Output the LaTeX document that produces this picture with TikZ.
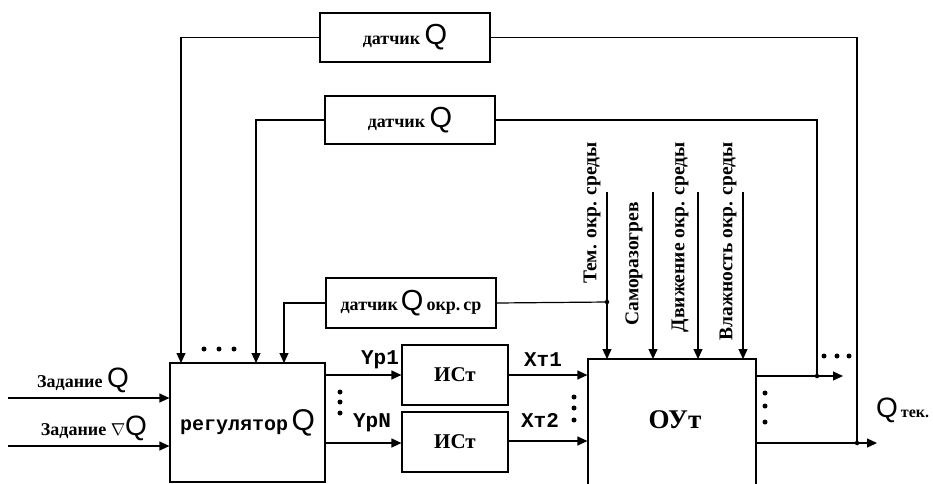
\documentclass[tikz,border=0pt]{standalone}
\usepackage{fontspec}
\setmainfont{Liberation Serif}
\setmonofont{Liberation Mono}
\newfontfamily\qfont{Liberation Sans}
\usetikzlibrary{arrows.meta}
\newcommand\QQ[1]{{\qfont\mdseries\fontsize{#1}{#1}\selectfont Q}}
\tikzset{
  ln/.style={line width=1.2pt},
  arr/.style={ln,-{Triangle[length=10pt,width=9pt]}},
  blk/.style={draw,line width=1.2pt,inner sep=0pt,font=\bfseries\fontsize{18}{18}\selectfont},
  sf/.style={font=\bfseries\fontsize{18}{18}\selectfont,inner sep=0pt},
  mf/.style={font=\ttfamily\bfseries\fontsize{21}{21}\selectfont,inner sep=0pt},
  vl/.style={rotate=90,anchor=east,inner sep=0pt,font=\bfseries\fontsize{19.5}{19.5}\selectfont},
  bdot/.style={circle,fill,inner sep=0pt,minimum size=5pt},
  jdot/.style={circle,fill,inner sep=0pt,minimum size=4.5pt}
}
\begin{document}
\begin{tikzpicture}[x=1pt,y=-1pt]
\clip (0,0) rectangle (933,483);
\fill[white] (0,0) rectangle (933,483);
% blocks
\node[blk,minimum width=170pt,minimum height=49pt] (d1) at (405,37.5) {датчик \QQ{29}};
\node[blk,minimum width=170pt,minimum height=48pt] (d2) at (410,120) {датчик \QQ{29}};
\node[blk,minimum width=170pt,minimum height=50pt] (d3) at (411,303) {датчик\,\QQ{29}\,окр.\,ср};
\node[blk,minimum width=155pt,minimum height=119pt,font=\ttfamily\bfseries\fontsize{20}{20}\selectfont] (reg) at (247.5,422.5) {регулятор\,\QQ{30}};
\node[blk,minimum width=106pt,minimum height=60pt,font=\bfseries\fontsize{21}{21}\selectfont] (i1) at (455,375) {ИСт};
\node[blk,minimum width=106pt,minimum height=60pt,font=\bfseries\fontsize{21}{21}\selectfont] (i2) at (455,442) {ИСт};
\node[blk,minimum width=168pt,minimum height=131pt] (ou) at (672,424.5) {};
\node[sf,font=\bfseries\fontsize{27}{27}\selectfont] (out) at (675,420) {ОУт};
% coordinates
\coordinate (r1) at (181,363);
\coordinate (r2) at (256,363);
\coordinate (r3) at (284,363);
\coordinate (j1) at (817,376);
\coordinate (j2) at (857,443);
\coordinate (j3) at (607,302);
\coordinate (in1) at (8,398);
\coordinate (in2) at (8,446);
\coordinate (e1) at (843,376);
\coordinate (e2) at (877,443);
\foreach \n/\x/\t in {v1/607/192, v2/653/192, v3/698/192, v4/743/192}{
  \coordinate (\n) at (\x,\t);
  \coordinate (\n b) at (\x,359);
}
% feedback lines
\draw[arr] (d1.west) -| (r1);
\draw[arr] (d2.west) -| (r2);
\draw[arr] (d3.west) -| (r3);
\draw[ln] (d1.east) -| (j2);
\draw[ln] (d2.east) -| (j1);
\draw[ln] (d3.east) -- (j3);
% disturbances
\foreach \n in {v1,v2,v3,v4}{ \draw[arr] (\n) -- (\n b); }
% inputs
\draw[arr] (in1) -- (in1 -| reg.west);
\draw[arr] (in2) -- (in2 -| reg.west);
% regulator outputs
\draw[arr] (reg.east |- i1) -- (i1.west);
\draw[arr] (reg.east |- 0,443) -- (i2.west |- 0,443);
\draw[arr] (i1.east) -- (ou.west |- i1);
\draw[arr] (i2.east |- 0,441) -- (ou.west |- 0,441);
% outputs
\draw[arr] (ou.east |- j1) -- (e1);
\draw[arr] (ou.east |- j2) -- (e2);
\node[jdot] at (j1) {};
\node[jdot] at (j2) {};
\node[jdot] at (j3) {};
% dots
\foreach \p in {(204,349),(219,349),(234,349),(824,356),(837,356),(849,356),
                (340,392),(340,402),(340,413),(574,397),(574,408),(574,420),
                (765,393),(765,406),(765,422)}{ \node[bdot] at \p {}; }
% labels
\node[sf] (l1) at (83,380) {Задание \QQ{28}};
\node[sf] (l2) at (94,428) {Задание $\nabla$\QQ{28}};
\node[mf] (y1) at (380,360) {Yp1};
\node[mf] (yn) at (372,423) {YpN};
\node[mf] (x1) at (543,360) {Xт1};
\node[mf] (x2) at (540,420) {Xт2};
\node[sf,anchor=west] (qt) at (876,410) {\QQ{28}\,\fontsize{16}{16}\selectfont тек.};
\node[vl] (t1) at (592,142) {Тем. окр. среды};
\node[vl] (t2) at (634,202) {Саморазогрев};
\node[vl] (t3) at (680,142) {Движение окр. среды};
\node[vl] (t4) at (728,142) {Влажность окр. среды};
\end{tikzpicture}
\end{document}
